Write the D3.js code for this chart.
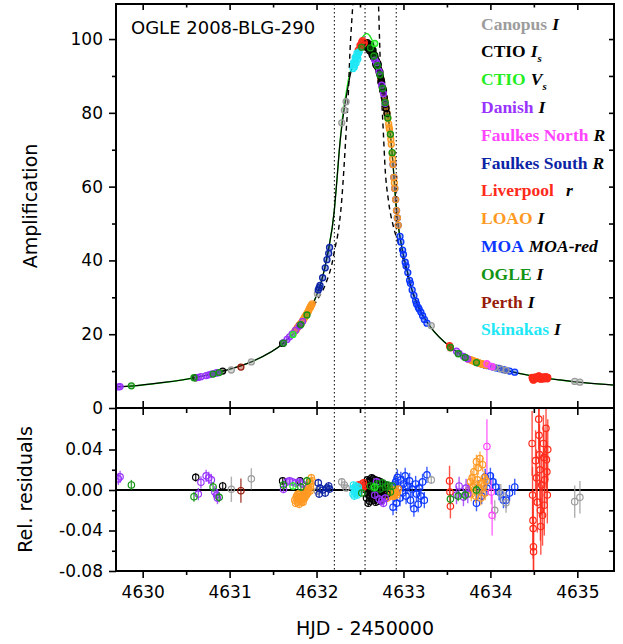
<!DOCTYPE html>
<html>
<head>
<meta charset="utf-8">
<script src="https://cdn.jsdelivr.net/npm/d3@7"></script>
<style>
  body { margin: 0; background: #fff; }
  svg { display: block; }
</style>
</head>
<body>
<div id="chart"></div>
<script>
// ---- model light curves ----
const modelT = [4629.69, 4629.90, 4630.20, 4630.60, 4630.92, 4631.25, 4631.62, 4631.81, 4631.96, 4632.05, 4632.13, 4632.205, 4632.23, 4632.27, 4632.30, 4632.34, 4632.39, 4632.44, 4632.50, 4632.56, 4632.62, 4632.68, 4632.73, 4632.79, 4632.85, 4632.88, 4632.915, 4632.94, 4632.98, 4633.04, 4633.11, 4633.19, 4633.31, 4633.54, 4633.77, 4634.00, 4634.20, 4634.50, 4634.80, 4635.10, 4635.43];
const modelA = [5.7, 6.0, 6.8, 8.2, 10.0, 12.5, 17.6, 22.4, 28.3, 33.8, 42.0, 53.7, 60.5, 72.0, 78.0, 84.0, 90.5, 94.6, 97.8, 98.6, 97.8, 94.6, 90.5, 83.0, 74.0, 66.0, 55.0, 49.5, 43.7, 37.4, 31.0, 26.5, 22.0, 16.5, 13.0, 11.4, 10.1, 8.6, 7.6, 6.8, 6.2];

// V-band model near the peak (elsewhere it runs on the I-band model)
const greenT = [4632.30, 4632.347, 4632.366, 4632.405, 4632.443, 4632.50, 4632.578, 4632.654, 4632.70, 4632.75, 4632.79];
const greenA = [79.0, 86.2, 88.9, 92.5, 95.7, 99.3, 101.5, 98.8, 95.0, 89.0, 83.5];

// dashed point-source model (runs off the top of the panel)
const dashT = [4631.90, 4632.009, 4632.117, 4632.175, 4632.213, 4632.247, 4632.290, 4632.316, 4632.339, 4632.362, 4632.385, 4632.42, 4632.47, 4632.565, 4632.66, 4632.713, 4632.725, 4632.736, 4632.750, 4632.769, 4632.788, 4632.826, 4632.884, 4632.941, 4632.999, 4633.056, 4633.133, 4633.20];
const dashA = [25.8, 29.3, 34.4, 38.8, 43.4, 47.4, 56.4, 65.3, 74.3, 83.2, 96.7, 110.6, 135, 160, 135, 109.5, 99.8, 91.6, 83.5, 74.5, 65.3, 56.4, 49.2, 44.7, 40.1, 35.0, 29.8, 26.0];

const markTimes = [4632.205, 4632.558, 4632.917];

// ---- observations: [HJD-2450000, amplification, rel. residual, error] ----
const canopus = [
  [4631.02, 10.3, 0.0007, 0.0125], [4631.25, 12.5, 0.011, 0.0105], [4632.01, 31.0, -0.001, 0.004],
  [4632.29, 77.3, 0.008, 0.003], [4632.32, 80.7, 0.005, 0.003], [4632.34, 83.0, 0.002, 0.003],
  [4633.32, 22.3, 0.010, 0.004], [4634.05, 11.0, -0.020, 0.010], [4634.12, 10.6, -0.003, 0.009],
  [4634.18, 10.2, -0.0125, 0.010], [4634.97, 7.2, -0.0115, 0.016], [4635.03, 7.0, -0.0072, 0.016]
];
const ctioI = [
  [4630.61, 8.2, 0.0125, 0.004], [4630.92, 10.0, 0.004, 0.004], [4631.61, 17.5, 0.009, 0.003], [4631.81, 22.4, 0.009, 0.003],
  [4632.565, 98.9, 0.006, 0.003], [4632.575, 97.8, -0.008, 0.003], [4632.585, 99.0, 0.010, 0.003], [4632.59, 97.9, -0.004, 0.003],
  [4632.60, 98.3, 0.002, 0.003], [4632.61, 96.8, -0.011, 0.003], [4632.62, 98.5, 0.008, 0.003], [4632.625, 97.2, -0.002, 0.003],
  [4632.63, 97.6, 0.004, 0.003], [4632.64, 95.7, -0.009, 0.003], [4632.65, 97.0, 0.011, 0.003], [4632.655, 95.1, -0.006, 0.003],
  [4632.66, 95.5, 0.001, 0.003], [4632.67, 95.6, 0.007, 0.003], [4632.68, 93.4, -0.012, 0.003], [4632.69, 94.1, 0.003, 0.003],
  [4632.70, 92.5, -0.005, 0.003], [4632.71, 93.0, 0.009, 0.003], [4632.72, 91.1, -0.003, 0.003], [4632.73, 91.0, 0.005, 0.003],
  [4632.74, 88.3, -0.010, 0.003], [4632.75, 88.2, 0.002, 0.003], [4632.76, 86.1, -0.007, 0.003], [4632.77, 86.0, 0.006, 0.003],
  [4632.78, 84.1, -0.001, 0.003], [4632.79, 82.3, -0.008, 0.003],
  [4632.57, 98.2, 0.000, 0.003], [4632.58, 98.6, 0.004, 0.003], [4632.595, 97.4, -0.013, 0.003], [4632.605, 98.0, 0.009, 0.003],
  [4632.615, 97.3, -0.006, 0.003], [4632.635, 96.2, 0.012, 0.003], [4632.645, 96.5, -0.003, 0.003], [4632.665, 94.7, -0.010, 0.003],
  [4632.675, 94.9, 0.010, 0.003], [4632.685, 93.0, 0.000, 0.003], [4632.695, 92.9, -0.008, 0.003], [4632.705, 93.4, 0.005, 0.003],
  [4632.715, 91.8, -0.011, 0.003], [4632.725, 90.6, 0.001, 0.003], [4632.735, 89.9, 0.008, 0.003], [4632.745, 88.9, -0.005, 0.003],
  [4632.755, 87.0, 0.004, 0.003], [4632.765, 86.5, -0.002, 0.003], [4632.80, 81.2, 0.005, 0.003], [4632.81, 79.8, -0.004, 0.003]
];
const ctioV = [[4631.73, 19.9, 0.004, 0.004], [4632.67, 98.8, 0.003, 0.004]];
const danish = [
  [4629.72, 5.7, 0.011, 0.006], [4629.74, 5.8, 0.013, 0.006], [4630.64, 8.3, -0.004, 0.006], [4630.67, 8.5, 0.0076, 0.006],
  [4630.73, 8.8, 0.014, 0.006], [4630.76, 9.0, 0.012, 0.006], [4630.79, 9.2, 0.010, 0.006], [4630.83, 9.4, -0.002, 0.006],
  [4630.85, 9.5, -0.005, 0.006], [4630.86, 9.6, -0.008, 0.006], [4631.62, 17.7, 0.0007, 0.004], [4631.66, 18.6, 0.008, 0.004],
  [4631.69, 19.3, 0.009, 0.004], [4631.72, 20.1, 0.008, 0.004], [4631.76, 21.1, 0.007, 0.004], [4631.80, 22.2, 0.008, 0.004],
  [4631.84, 23.5, 0.006, 0.004], [4632.67, 94.3, -0.005, 0.004], [4632.69, 93.6, 0.008, 0.004], [4632.72, 91.2, -0.009, 0.004],
  [4632.75, 87.5, -0.011, 0.004], [4632.77, 85.2, -0.013, 0.004], [4632.79, 82.6, -0.008, 0.004], [4633.61, 15.4, -0.005, 0.009],
  [4633.64, 14.8, 0.004, 0.009], [4633.69, 14.0, -0.007, 0.009], [4633.72, 13.6, 0.002, 0.009], [4633.74, 13.3, -0.004, 0.009]
];
const faulkesN = [[4633.96, 12.0, 0.043, 0.027], [4634.01, 11.3, -0.002, 0.012], [4634.02, 11.2, -0.025, 0.020]];
const faulkesS = [
  [4632.02, 32.0, 0.007, 0.004], [4632.03, 32.6, -0.004, 0.004], [4632.04, 33.2, 0.002, 0.004], [4632.07, 35.3, 0.000, 0.004],
  [4632.10, 38.0, -0.003, 0.004], [4632.12, 40.2, 0.002, 0.004], [4632.14, 41.9, 0.004, 0.004], [4632.15, 43.5, 0.001, 0.004]
];
const liverpool = [
  [4632.48, 97.0, 0.005, 0.004], [4632.50, 98.3, 0.003, 0.004], [4632.52, 99.2, 0.006, 0.004], [4632.53, 99.6, 0.002, 0.004],
  [4632.55, 99.0, 0.004, 0.004], [4632.51, 98.0, 0.001, 0.004], [4632.54, 98.7, 0.007, 0.004],
  [4633.53, 16.9, 0.009, 0.015], [4633.535, 16.6, -0.002, 0.012], [4633.54, 16.3, -0.016, 0.012],
  [4634.48, 8.3, 0.046, 0.032], [4634.485, 8.0, -0.005, 0.028], [4634.49, 7.8, -0.030, 0.030], [4634.492, 7.7, -0.038, 0.030],
  [4634.495, 7.6, -0.056, 0.028], [4634.497, 7.6, -0.061, 0.030], [4634.52, 8.4, 0.029, 0.030], [4634.53, 8.2, 0.012, 0.028],
  [4634.54, 8.0, -0.012, 0.030], [4634.556, 8.7, 0.070, 0.030], [4634.56, 8.6, 0.054, 0.028], [4634.565, 8.4, 0.035, 0.030],
  [4634.57, 8.3, 0.020, 0.032], [4634.575, 7.9, -0.020, 0.030], [4634.58, 7.8, -0.036, 0.028], [4634.59, 8.1, 0.005, 0.030],
  [4634.60, 7.9, -0.025, 0.030], [4634.61, 8.4, 0.046, 0.028], [4634.615, 8.3, 0.032, 0.030], [4634.62, 7.9, -0.015, 0.030],
  [4634.625, 8.1, 0.010, 0.028], [4634.64, 8.5, 0.061, 0.030], [4634.645, 8.2, 0.030, 0.028], [4634.65, 8.1, 0.018, 0.030],
  [4634.655, 7.9, -0.005, 0.028], [4634.66, 8.3, 0.040, 0.030]
];
const loao = [
  [4631.75, 20.8, -0.010, 0.004], [4631.76, 21.1, -0.013, 0.004], [4631.77, 21.4, -0.006, 0.004], [4631.78, 21.8, -0.012, 0.004],
  [4631.79, 22.0, -0.009, 0.004], [4631.80, 22.3, -0.014, 0.004], [4631.80, 22.4, -0.004, 0.004], [4631.81, 22.6, -0.010, 0.004],
  [4631.82, 22.9, -0.007, 0.004], [4631.83, 23.2, -0.012, 0.004], [4631.84, 23.6, -0.005, 0.004], [4631.85, 24.0, -0.009, 0.004],
  [4631.86, 24.4, -0.002, 0.004], [4631.87, 24.8, -0.006, 0.004], [4631.88, 25.2, -0.001, 0.004], [4631.89, 25.6, 0.002, 0.004],
  [4631.90, 26.0, -0.003, 0.004], [4631.91, 26.5, 0.004, 0.004], [4631.92, 27.0, 0.008, 0.004], [4631.93, 27.4, 0.003, 0.004],
  [4631.94, 27.9, 0.012, 0.004], [4631.95, 28.2, 0.009, 0.004],
  [4631.765, 21.2, -0.008, 0.004], [4631.785, 21.9, -0.004, 0.004], [4631.805, 22.5, -0.007, 0.004], [4631.825, 23.0, -0.010, 0.004],
  [4631.845, 23.8, -0.012, 0.004], [4631.865, 24.6, -0.008, 0.004], [4631.885, 25.4, -0.005, 0.004], [4631.905, 26.2, 0.000, 0.004],
  [4631.925, 27.2, -0.001, 0.004], [4631.935, 27.6, 0.006, 0.004],
  [4632.70, 93.0, -0.002, 0.003], [4632.72, 91.4, 0.001, 0.003], [4632.74, 89.2, -0.004, 0.003], [4632.76, 86.7, -0.006, 0.003],
  [4632.77, 85.5, 0.000, 0.003], [4632.78, 84.2, -0.005, 0.003], [4632.79, 83.0, -0.007, 0.003], [4632.80, 81.5, -0.003, 0.003],
  [4632.81, 80.0, 0.002, 0.003], [4632.82, 78.5, -0.004, 0.003], [4632.83, 77.0, -0.006, 0.003], [4632.84, 75.5, -0.002, 0.003],
  [4632.85, 74.0, 0.001, 0.003], [4632.86, 71.5, -0.003, 0.003], [4632.87, 69.0, -0.006, 0.003], [4632.88, 66.0, -0.001, 0.003],
  [4632.89, 62.5, -0.004, 0.003], [4632.90, 59.5, 0.000, 0.003], [4632.91, 56.5, -0.003, 0.003], [4632.92, 53.5, -0.005, 0.003],
  [4632.93, 51.5, -0.002, 0.003], [4632.94, 49.5, 0.001, 0.003],
  [4632.795, 82.0, -0.001, 0.003], [4632.815, 79.0, -0.008, 0.003], [4632.835, 76.0, 0.000, 0.003], [4632.855, 72.8, -0.005, 0.003],
  [4632.875, 67.5, -0.002, 0.003], [4632.895, 61.0, -0.006, 0.003],
  [4633.75, 13.2, 0.000, 0.007], [4633.77, 13.1, 0.008, 0.007], [4633.78, 13.0, -0.004, 0.007], [4633.79, 12.9, 0.012, 0.007],
  [4633.80, 12.8, 0.003, 0.007], [4633.81, 12.7, 0.018, 0.007], [4633.82, 12.6, 0.006, 0.007], [4633.83, 12.5, -0.006, 0.007],
  [4633.84, 12.5, 0.028, 0.007], [4633.85, 12.4, 0.010, 0.007], [4633.86, 12.3, 0.022, 0.007], [4633.87, 12.2, 0.002, 0.007],
  [4633.88, 12.1, 0.031, 0.007], [4633.89, 12.0, -0.008, 0.007], [4633.90, 12.0, 0.007, 0.007], [4633.91, 11.9, 0.025, 0.007],
  [4633.92, 11.8, 0.004, 0.007], [4633.93, 11.8, 0.012, 0.007], [4633.94, 11.7, -0.003, 0.007], [4633.95, 11.6, 0.009, 0.007]
];
const moa = [
  [4632.88, 66.0, -0.017, 0.008], [4632.89, 62.5, 0.005, 0.008], [4632.90, 59.5, -0.004, 0.008], [4632.91, 56.5, 0.008, 0.008],
  [4632.92, 53.5, -0.013, 0.008], [4632.93, 51.5, 0.0125, 0.008], [4632.94, 49.5, 0.002, 0.008], [4632.96, 46.5, -0.008, 0.008],
  [4632.97, 45.0, 0.010, 0.008], [4632.99, 42.8, -0.003, 0.008], [4633.00, 41.6, 0.006, 0.008], [4633.02, 39.5, 0.014, 0.008],
  [4633.03, 38.5, -0.006, 0.008], [4633.05, 36.7, 0.004, 0.008], [4633.07, 34.6, 0.009, 0.008], [4633.08, 33.8, -0.010, 0.008],
  [4633.10, 32.0, 0.001, 0.008], [4633.12, 30.5, -0.0185, 0.008], [4633.14, 29.0, 0.006, 0.008], [4633.15, 28.2, -0.004, 0.008],
  [4633.17, 27.3, -0.014, 0.008], [4633.18, 26.8, 0.002, 0.008], [4633.20, 26.0, -0.006, 0.008], [4633.22, 25.0, 0.008, 0.008],
  [4633.24, 24.0, -0.010, 0.008], [4633.27, 23.0, 0.015, 0.008],
  [4633.84, 12.4, -0.013, 0.008], [4633.86, 12.2, 0.002, 0.008], [4633.90, 11.9, -0.006, 0.008], [4633.94, 11.6, 0.013, 0.008],
  [4633.96, 11.5, 0.002, 0.008], [4634.00, 11.3, 0.014, 0.008], [4634.03, 11.1, 0.008, 0.008], [4634.06, 10.9, 0.003, 0.008],
  [4634.10, 10.7, -0.002, 0.008], [4634.15, 10.4, -0.010, 0.008], [4634.18, 10.2, -0.010, 0.008], [4634.22, 10.0, -0.003, 0.008],
  [4634.28, 9.7, 0.003, 0.008]
];
const ogle = [
  [4629.87, 6.0, 0.005, 0.005], [4630.59, 8.2, -0.0066, 0.005], [4630.81, 9.2, 0.003, 0.005], [4630.88, 9.6, -0.0072, 0.005],
  [4631.62, 17.6, 0.005, 0.004], [4631.82, 22.6, 0.003, 0.004], [4631.89, 25.2, 0.009, 0.004], [4632.52, 97.8, -0.003, 0.003],
  [4632.62, 97.6, 0.004, 0.003], [4632.66, 95.4, 0.002, 0.003], [4632.70, 92.8, 0.006, 0.003], [4632.73, 90.3, 0.001, 0.003],
  [4632.76, 86.6, 0.007, 0.003], [4632.79, 82.8, 0.003, 0.003], [4632.82, 78.6, 0.005, 0.003], [4632.85, 74.2, -0.002, 0.003],
  [4632.87, 69.2, 0.004, 0.003], [4633.54, 16.4, -0.009, 0.005], [4633.63, 14.7, -0.006, 0.005], [4633.71, 13.7, -0.005, 0.005],
  [4633.84, 12.3, 0.000, 0.005]
];
const perth = [[4631.13, 11.1, -0.0007, 0.012]];
const skinakas = [
  [4632.42, 92.0, -0.004, 0.003], [4632.43, 93.0, 0.002, 0.003], [4632.44, 93.8, -0.002, 0.003], [4632.45, 94.5, 0.004, 0.003],
  [4632.46, 95.0, 0.000, 0.003], [4632.47, 95.6, -0.005, 0.003], [4632.48, 96.0, 0.003, 0.003], [4632.49, 96.5, -0.001, 0.003],
  [4632.425, 93.6, 0.005, 0.003], [4632.435, 92.4, -0.006, 0.003], [4632.445, 95.0, 0.001, 0.003], [4632.455, 93.5, -0.004, 0.003],
  [4632.465, 96.2, 0.003, 0.003], [4632.475, 94.6, -0.002, 0.003]
];

// legend
const obsNames = ["Canopus", "CTIO", "CTIO", "Danish", "Faulkes North", "Faulkes South", "Liverpool", "LOAO", "MOA", "OGLE", "Perth", "Skinakas"];
const obsFilters = ["I", "I", "V", "I", "R", "R", "r", "I", "MOA-red", "I", "I", "I"];
const obsSubs = ["", "s", "s", "", "", "", "", "", "", "", "", ""];
const obsColors = ["#9c9c9c", "#000000", "#22ee22", "#9933ff", "#ff44ff", "#0b24a6", "#ff2a1a", "#ff9922", "#0a36ff", "#139413", "#981c0c", "#1ee8f6"];
const obsData = [canopus, ctioI, ctioV, danish, faulkesN, faulkesS, liverpool, loao, moa, ogle, perth, skinakas];
const drawOrder = [8, 7, 1, 3, 0, 5, 4, 6, 10, 11, 9, 2];

const xTicks = [4630, 4631, 4632, 4633, 4634, 4635];
const xMinor = [4630.5, 4631.5, 4632.5, 4633.5, 4634.5];
const ampTicks = [0, 20, 40, 60, 80, 100];
const ampMinor = [10, 30, 50, 70, 90];
const resTicks = [-0.08, -0.04, 0, 0.04];
const resMinor = [-0.06, -0.02, 0.02, 0.06];

// ---- layout ----
const width = 623, height = 644;
const plotL = 116, plotR = 614, plotT = 4, plotMid = 408, plotB = 571;

const x = d3.scaleLinear().domain([4629.693, 4635.422]).range([plotL, plotR]);
const yA = d3.scaleLinear().domain([0, 109.5]).range([plotMid, plotT]);
const yR = d3.scaleLinear().domain([-0.08, 0.081]).range([plotB, plotMid]);

const svg = d3.select("#chart").append("svg").attr("width", width).attr("height", height);

const defs = svg.append("defs");
defs.append("clipPath").attr("id", "clipTop").append("rect")
  .attr("x", plotL).attr("y", plotT).attr("width", plotR - plotL).attr("height", plotMid - plotT);
defs.append("clipPath").attr("id", "clipRes").append("rect")
  .attr("x", plotL).attr("y", plotMid).attr("width", plotR - plotL).attr("height", plotB - plotMid);

const font = "'DejaVu Sans', Verdana, sans-serif";

// helper: ticks without domain line
function ticks(axis, tx, ty, size, vals, labels, pad) {
  const g = svg.append("g").attr("transform", `translate(${tx},${ty})`)
    .call(axis.tickValues(vals).tickSize(size).tickPadding(pad || 3)
      .tickFormat(labels ? labels : () => ""));
  g.select(".domain").remove();
  g.selectAll("line").attr("stroke", "#000").attr("stroke-width", 1.6);
  g.selectAll("text").attr("font-family", font).attr("font-size", 17).attr("fill", "#000");
  return g;
}

// ---- model curves ----
const topG = svg.append("g").attr("clip-path", "url(#clipTop)");
const line = d3.line().x((d) => x(d[0])).y((d) => yA(d[1])).curve(d3.curveMonotoneX);

const blackModel = d3.zip(modelT, modelA);
const greenModel = blackModel.filter((d) => d[0] < 4632.29 || d[0] > 4632.80)
  .concat(d3.zip(greenT, greenA)).sort((a, b) => a[0] - b[0]);

topG.append("path").datum(greenModel).attr("d", line)
  .attr("fill", "none").attr("stroke", "#1ee01e").attr("stroke-width", 1.4);
topG.append("path").datum(blackModel).attr("d", line)
  .attr("fill", "none").attr("stroke", "#000").attr("stroke-width", 1.2);
topG.append("path").datum(d3.zip(dashT, dashA)).attr("d", line)
  .attr("fill", "none").attr("stroke", "#000").attr("stroke-width", 1.4).attr("stroke-dasharray", "5,4");

// dotted time markers across both panels
svg.append("g").selectAll("line").data(markTimes).join("line")
  .attr("x1", (d) => x(d)).attr("x2", (d) => x(d)).attr("y1", plotT).attr("y2", plotB)
  .attr("stroke", "#000").attr("stroke-width", 1).attr("stroke-dasharray", "1.5,2.5");

// residual zero line
svg.append("line").attr("x1", plotL).attr("x2", plotR).attr("y1", yR(0)).attr("y2", yR(0))
  .attr("stroke", "#000").attr("stroke-width", 2);

// ---- data points ----
const resG = svg.append("g").attr("clip-path", "url(#clipRes)");
drawOrder.forEach((k) => {
  const col = obsColors[k];
  const data = obsData[k];
  topG.append("g").selectAll("circle").data(data).join("circle")
    .attr("cx", (d) => x(d[0])).attr("cy", (d) => yA(d[1])).attr("r", 3)
    .attr("fill", col).attr("fill-opacity", 0.4).attr("stroke", col).attr("stroke-width", 1.3);

  const g = resG.append("g");
  g.selectAll("line").data(data).join("line")
    .attr("x1", (d) => x(d[0])).attr("x2", (d) => x(d[0]))
    .attr("y1", (d) => yR(d[2] - d[3])).attr("y2", (d) => yR(d[2] + d[3]))
    .attr("stroke", col).attr("stroke-opacity", 0.8).attr("stroke-width", 1.4);
  g.selectAll("circle").data(data).join("circle")
    .attr("cx", (d) => x(d[0])).attr("cy", (d) => yR(d[2])).attr("r", 3.2)
    .attr("fill", "none").attr("stroke", col).attr("stroke-width", 1.2);
});

// ---- axes ----
// bottom of residual panel
ticks(d3.axisBottom(x), 0, plotB, 7, xTicks, d3.format("d"), 8);
ticks(d3.axisBottom(x), 0, plotB, 4, xMinor);
// top of amplification panel (inward)
ticks(d3.axisBottom(x), 0, plotT, 6, xTicks);
ticks(d3.axisBottom(x), 0, plotT, 3.5, xMinor);
// panel divider
ticks(d3.axisBottom(x), 0, plotMid, 7, xTicks);
ticks(d3.axisTop(x), 0, plotMid, 7, xTicks);
ticks(d3.axisBottom(x), 0, plotMid, 5, xMinor);

// amplification y axis
ticks(d3.axisLeft(yA), plotL, 0, 7, ampTicks, d3.format("d"), 6);
ticks(d3.axisLeft(yA), plotL, 0, 4, ampMinor);
ticks(d3.axisLeft(yA), plotR, 0, 5, d3.range(10, 101, 10));

// residual y axis
ticks(d3.axisLeft(yR), plotL, 0, 7, resTicks, (d) => d.toFixed(2), 6);
ticks(d3.axisLeft(yR), plotL, 0, 4, resMinor);
ticks(d3.axisLeft(yR), plotR, 0, 5, resMinor.concat([0.04, -0.04]));

// frames
svg.append("rect").attr("x", plotL).attr("y", plotT).attr("width", plotR - plotL).attr("height", plotMid - plotT)
  .attr("fill", "none").attr("stroke", "#000").attr("stroke-width", 2);
svg.append("rect").attr("x", plotL).attr("y", plotMid).attr("width", plotR - plotL).attr("height", plotB - plotMid)
  .attr("fill", "none").attr("stroke", "#000").attr("stroke-width", 2);

// ---- labels ----
svg.append("text").attr("x", 131).attr("y", 34).attr("font-family", font).attr("font-size", 18)
  .text("OGLE 2008-BLG-290");

svg.append("text").attr("x", 365).attr("y", 635).attr("text-anchor", "middle")
  .attr("font-family", font).attr("font-size", 19).text("HJD - 2450000");

svg.append("text").attr("transform", `translate(37,${(plotT + plotMid) / 2}) rotate(-90)`)
  .attr("text-anchor", "middle").attr("font-family", font).attr("font-size", 19).text("Amplification");

svg.append("text").attr("transform", `translate(32,${(plotMid + plotB) / 2}) rotate(-90)`)
  .attr("text-anchor", "middle").attr("font-family", font).attr("font-size", 19).text("Rel. residuals");

// ---- legend ----
const legend = svg.append("g").attr("font-family", "'Liberation Serif', 'Times New Roman', serif")
  .attr("font-size", 17.5).attr("font-weight", "bold");
obsNames.forEach((name, i) => {
  const t = legend.append("text").attr("x", 481).attr("y", 29.5 + i * 27.8);
  t.append("tspan").attr("fill", obsColors[i]).text(name);
  t.append("tspan").attr("fill", "#000").attr("font-style", "italic")
    .attr("dx", name === "Liverpool" ? 12 : 5).text(obsFilters[i]);
  if (obsSubs[i]) {
    t.append("tspan").attr("fill", "#000").attr("font-style", "italic").attr("font-size", 11)
      .attr("dy", 5).text(obsSubs[i]);
  }
});
</script>
</body>
</html>
